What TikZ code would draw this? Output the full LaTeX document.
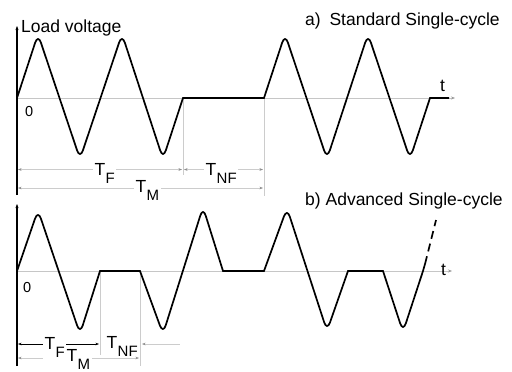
\documentclass[tikz,border=0pt]{standalone}
\usepackage{fontspec}
\setmainfont{Liberation Sans}
\usetikzlibrary{arrows.meta}
\newcommand\tsub[2]{#1\kern0.3pt\lower8pt\hbox{\fontsize{15}{16}\selectfont #2}}
\tikzset{
  wave/.style={line width=1.7pt, black, line join=miter},
  rc/.style={rounded corners=9pt},
  zeroline/.style={line width=0.6pt, gray!45, -{Stealth[length=4pt,width=3pt,gray!80]}},
  axis/.style={line width=1.1pt, black, -{Stealth[length=4pt,width=3pt]}},
  dimline/.style={line width=0.6pt, gray!40, {Stealth[length=3.5pt,width=2.6pt,gray!90]}-{Stealth[length=3.5pt,width=2.6pt,gray!90]}},
  dimblack/.style={line width=0.8pt, black, {Stealth[length=3.5pt,width=2.6pt]}-{Stealth[length=3.5pt,width=2.6pt]}},
  guide/.style={line width=0.6pt, gray!40},
  big/.style={font=\fontsize{17.5}{19}\selectfont, inner sep=0pt},
  small/.style={font=\fontsize{14.5}{16}\selectfont, inner sep=0pt},
  dimlab/.style={font=\fontsize{17.5}{18}\selectfont, inner sep=1.5pt, fill=white, anchor=base west},
}
\begin{document}
\begin{tikzpicture}[x=1pt,y=-1pt]
\useasboundingbox[fill=white] (0,0) rectangle (512,372);
% ---------- a) ----------
\coordinate (a0) at (17,98);
\coordinate (aend) at (455,98);
\coordinate (abot) at (17,195);
\coordinate (atop) at (17,26);
\draw[zeroline] (a0) -- (aend);
\draw[guide] (183,98) -- (183,175);
\draw[guide] (264,98) -- (264,196);
\draw[wave] (17,98) [rc] -- (38,34) -- (80,159) -- (122,34) -- (163,159) [sharp corners] -- (183,98)
  -- (264,98) [rc] -- (285,34) -- (327,159) -- (368,34) -- (410,159) [sharp corners] -- (430,98) -- (449,98);
\draw[axis] (abot) -- (atop);
\node[big, anchor=base west] (lv) at (21,32) {Load voltage};
\node[big, anchor=base west] (ta) at (305,26) {a)\hspace{0.5em}Standard Single-cycle};
\node[small, anchor=base west] (za) at (25,116) {0};
\node[big, anchor=base west] (tta) at (440,91) {t};
% dimension lines a
\coordinate (f1) at (18,169.5);
\coordinate (f2) at (182,169.5);
\coordinate (n1) at (184,169.5);
\coordinate (n2) at (263,169.5);
\coordinate (m1) at (18,188);
\coordinate (m2) at (263,188);
\draw[dimline] (f1) -- (f2);
\draw[dimline] (n1) -- (n2);
\draw[dimline] (m1) -- (m2);
\node[dimlab] (lf) at (93,175) {\tsub{T}{F}};
\node[dimlab] (lnf) at (204,175) {\tsub{T}{NF}};
\node[dimlab] (lm) at (134,192) {\tsub{T}{M}};
% ---------- b) ----------
\coordinate (b0) at (17,271);
\coordinate (bend) at (452,271);
\coordinate (bbot) at (17,366);
\coordinate (btop) at (17,204);
\draw[zeroline] (b0) -- (bend);
\draw[guide] (100,271) -- (100,355);
\draw[guide] (140,271) -- (140,366);
\draw[wave] (17,271) [rc] -- (38,210) -- (80,334) [sharp corners] -- (100,271) -- (140,271)
  [rc] -- (163,334) -- (203,207) [sharp corners] -- (223,271) -- (264,271)
  [rc] -- (287,208) -- (327,331) [sharp corners] -- (348,271) -- (383,271)
  [rc] -- (403,332) [sharp corners] -- (423,271) -- (425,264);
\draw[line width=1.7pt, dash pattern=on 8pt off 5pt] (425,264) -- (436,220);
\draw[axis] (bbot) -- (btop);
\node[big, anchor=base west] (tb) at (305,205) {b) Advanced Single-cycle};
\node[small, anchor=base west] (zb) at (23,292) {0};
\node[big, anchor=base west] (ttb) at (441,275) {t};
% dimension lines b
\coordinate (bf1) at (18,344);
\coordinate (bf2) at (99,344);
\coordinate (bn1) at (142,344);
\coordinate (bn2) at (180,344);
\coordinate (bm1) at (18,358);
\coordinate (bm2) at (139,358);
\draw[dimblack] (bf1) -- (bf2);
\draw[line width=0.6pt, gray!40, {Stealth[length=3.5pt,width=2.6pt,gray!90]}-] (bn1) -- (bn2);
\draw[dimline] (bm1) -- (bm2);
\node[dimlab] (blf) at (43,349) {\tsub{T}{F}};
\node[dimlab] (blm) at (65,361) {\tsub{T}{M}};
\node[dimlab, fill=none] (blnf) at (105,348) {\tsub{T}{NF}};
\end{tikzpicture}
\end{document}
